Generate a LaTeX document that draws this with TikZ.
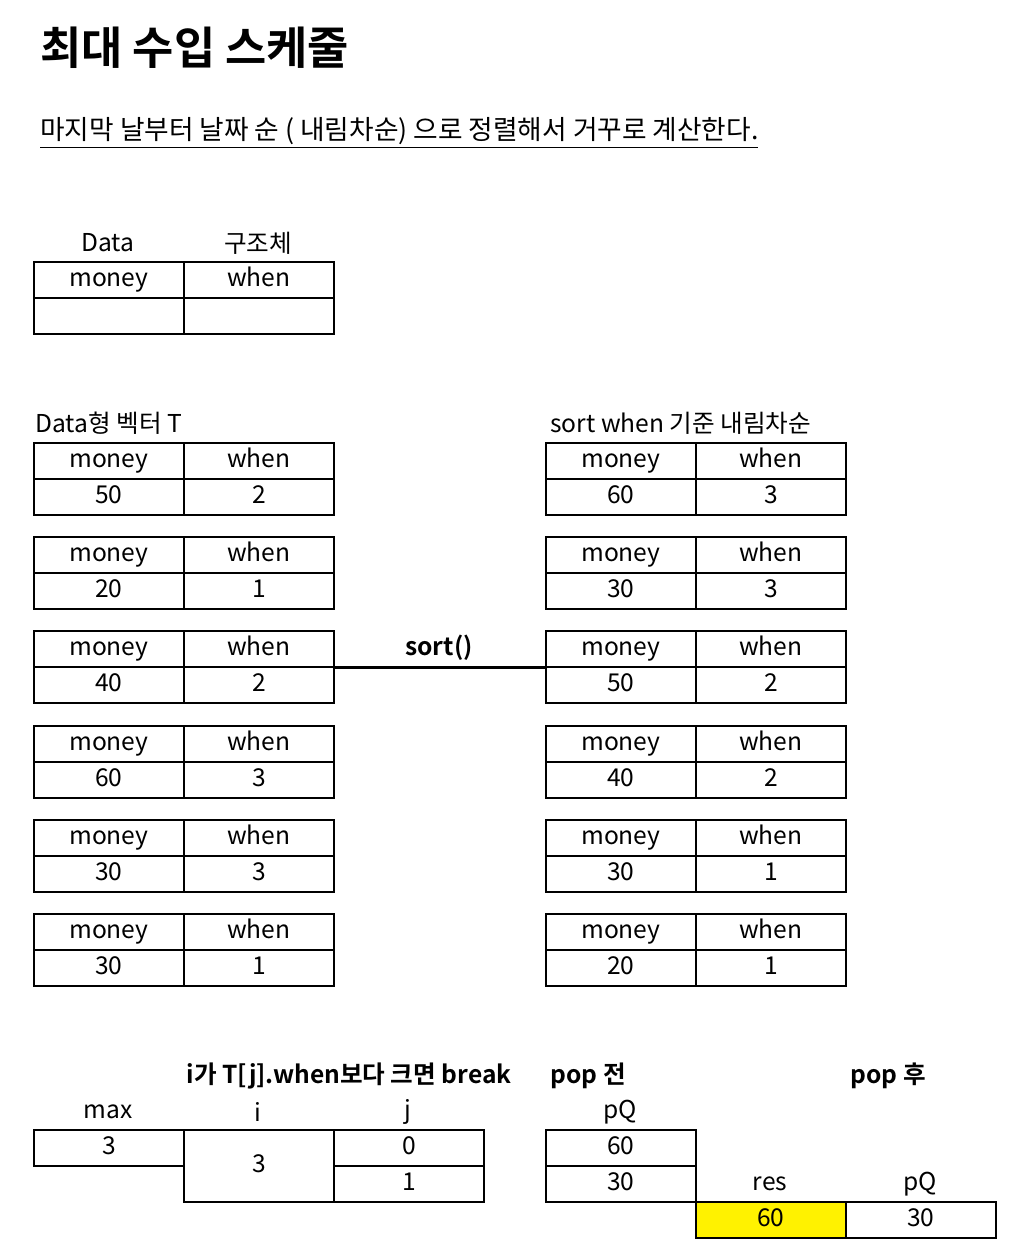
\documentclass[tikz,border=0pt]{standalone}
\usepackage{fontspec}
\setmainfont{Noto Sans CJK KR}[BoldFont={Noto Sans CJK KR Bold}]
\begin{document}
\begin{tikzpicture}[
            x=0.02cm, y=-0.02cm,
            every node/.style={font=\fontsize{14}{17}\selectfont},
            cell/.style={draw, line width=1pt, rectangle, anchor=north west,
                    minimum width=3cm, minimum height=0.72cm, inner sep=0pt,
                    text height=0.95em, text depth=0.15em},
            plain/.style={inner sep=0pt},
            heading/.style={inner sep=0pt, font=\fontsize{14}{17}\selectfont\bfseries}
        ]
        \useasboundingbox (0,0) rectangle (1010,1252);

        % title
        \node[plain, anchor=west, font=\fontsize{25.5}{30}\selectfont\bfseries] (title) at (40,48) {최대 수입 스케줄};
        \node[plain, anchor=west, font=\fontsize{15.2}{18}\selectfont] (subtitle) at (40,133)
            {\underline{마지막 날부터 날짜 순 ( 내림차순) 으로 정렬해서 거꾸로 계산한다.}};

        % Data struct
        \node[plain] (datalbl) at (108,243) {Data};
        \node[plain] (structlbl) at (258,243) {구조체};
        \node[cell] (Dmh) at (33,261) {money};
        \node[cell] (Dwh) at (183,261) {when};
        \node[cell] (Dmv) at (33,297) {};
        \node[cell] (Dwv) at (183,297) {};

        % vector T
        \node[plain, anchor=west] (vecT) at (35,423) {Data형 벡터 T};
        \foreach \tname/\ty/\mval/\wval in {L1/442/50/2, L2/536/20/1, L3/630/40/2, L4/725/60/3, L5/819/30/3, L6/913/30/1} {
            \node[cell] (\tname mh) at (33,\ty) {money};
            \node[cell] (\tname wh) at (183,\ty) {when};
            \node[cell] (\tname mv) at (33,\ty+36) {\mval};
            \node[cell] (\tname wv) at (183,\ty+36) {\wval};
        }

        % sorted
        \node[plain, anchor=west] (sortedlbl) at (550,423) {sort when 기준 내림차순};
        \foreach \tname/\ty/\mval/\wval in {R1/442/60/3, R2/536/30/3, R3/630/50/2, R4/725/40/2, R5/819/30/1, R6/913/20/1} {
            \node[cell] (\tname mh) at (545,\ty) {money};
            \node[cell] (\tname wh) at (695,\ty) {when};
            \node[cell] (\tname mv) at (545,\ty+36) {\mval};
            \node[cell] (\tname wv) at (695,\ty+36) {\wval};
        }

        \node[heading] (sortlbl) at (439,648) {sort()};
        \draw[line width=1.7pt] (L3wh.south east) -- (R3mh.south west);

        % loop state
        \node[heading] (breaklbl) at (349,1076) {i가 T[j].when보다 크면 break};
        \node[heading, anchor=west] (beforelbl) at (550,1076) {pop 전};
        \node[heading, anchor=west] (afterlbl) at (850,1076) {pop 후};

        \node[plain] (maxlbl) at (108,1112) {max};
        \node[plain] (ilbl) at (258,1112) {i};
        \node[plain] (jlbl) at (408,1112) {j};
        \node[plain] (pqlbl) at (620,1112) {pQ};
        \node[cell] (maxv) at (33,1129) {3};
        \node[cell, minimum height=1.44cm] (iv) at (183,1129) {3};
        \node[cell] (jv1) at (333,1129) {0};
        \node[cell] (jv2) at (333,1165) {1};
        \node[cell] (pq1) at (545,1129) {60};
        \node[cell] (pq2) at (545,1165) {30};

        \node[plain] (reslbl) at (770,1184) {res};
        \node[plain] (pqlbl2) at (920,1184) {pQ};
        \node[cell, fill=yellow] (resv) at (695,1201) {60};
        \node[cell] (pqv) at (845,1201) {30};
    \end{tikzpicture}
\end{document}
